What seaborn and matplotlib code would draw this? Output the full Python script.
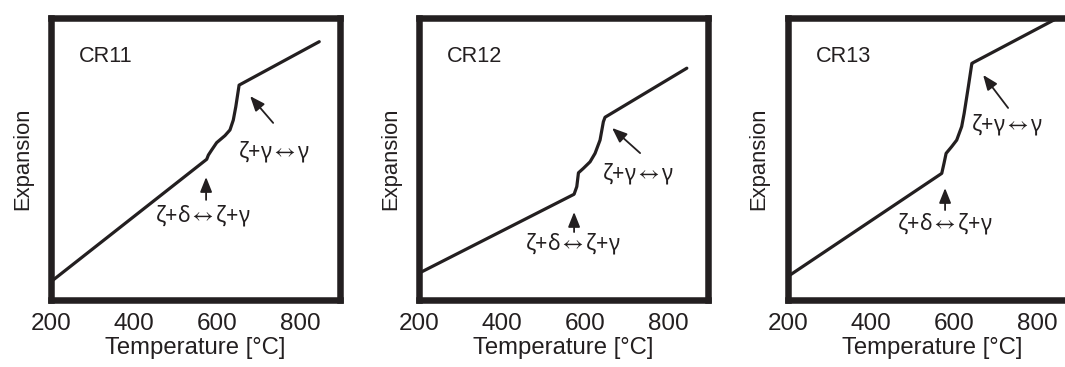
import matplotlib
matplotlib.use("Agg")
import matplotlib.pyplot as plt
from matplotlib.ticker import MultipleLocator
import pandas as pd
import seaborn as sns

# Dilatometry curves: temperature (degC) vs relative expansion (arbitrary units, 0-100)
cr11_temp = [200, 575, 579, 587, 599, 611, 619, 631, 639, 645, 650, 653, 846]
cr11_exp = [6.5, 49.9, 51.4, 53.2, 55.8, 57.3, 58.3, 60.3, 63.8, 68.5, 73.3, 76.2, 91.6]

cr12_temp = [200, 573.5, 580, 584, 596, 612, 624, 636, 644, 648, 845]
cr12_exp = [9.5, 37.5, 40.2, 45.1, 46.7, 49.0, 52.0, 56.7, 63.2, 64.8, 82.2]

cr13_temp = [200, 571, 576.5, 581.5, 595, 607, 619, 625, 635, 643.5, 647, 845]
cr13_exp = [8.3, 44.9, 48.5, 52.0, 54.4, 56.7, 61.5, 66.2, 75.6, 83.9, 84.2, 99.6]

sample_names = ["CR11", "CR12", "CR13"]
x_ticks = [200, 400, 600, 800]
x_label = "Temperature [\u00b0C]"
y_label = "Expansion"
label_upper = "\u03b6+\u03b3${\\leftrightarrow}$\u03b3"
label_lower = "\u03b6+\u03b4${\\leftrightarrow}$\u03b6+\u03b3"

# Transition markers per sample: (text position, arrow tail, arrow tip)
upper_notes = [
    ((736, 52.5), (735, 62.8), (679.5, 72.3)),
    ((726.5, 44.7), (732.5, 52.1), (665, 61.0)),
    ((728.4, 62.1), (730.8, 68.1), (670.6, 79.8)),
]
lower_notes = [
    ((566.3, 29.8), (573.5, 35.5), (573.5, 43.6)),
    ((571, 20.2), (573.5, 24.1), (573.5, 31.2)),
    ((579, 27.0), (579, 31.9), (579, 39.7)),
]

sns.set_style("white")
plt.rcParams["font.family"] = ["Liberation Sans", "DejaVu Sans"]
plt.rcParams["mathtext.fontset"] = "stix"
note_family = ["Noto Sans", "DejaVu Sans"]

ink = "#231f20"
fig = plt.figure(figsize=(10.65, 3.67), dpi=100)

lefts = [51 / 1065, 419 / 1065, 787.7 / 1065]
width = 289 / 1065
bottom = 67 / 367
height = 282 / 367

curves = [(cr11_temp, cr11_exp), (cr12_temp, cr12_exp), (cr13_temp, cr13_exp)]

for i, (temps, exps) in enumerate(curves):
    ax = fig.add_axes([lefts[i], bottom, width, height])
    df = pd.DataFrame({"temperature": temps, "expansion": exps})
    sns.lineplot(data=df, x="temperature", y="expansion", ax=ax, color=ink,
                 lw=2.3, estimator=None, sort=False)
    ax.set_xlim(200, 896)
    ax.set_ylim(0, 100)
    ax.set_xticks(x_ticks)
    ax.set_xticklabels([str(t) for t in x_ticks])
    ax.xaxis.set_minor_locator(MultipleLocator(50))
    ax.set_yticks([])
    ax.tick_params(axis="x", which="both", direction="in", colors=ink,
                   labelcolor=ink, labelsize=17.5, pad=9.5, top=False)
    ax.tick_params(axis="x", which="major", length=7.2, width=1.1)
    ax.tick_params(axis="x", which="minor", length=4.8, width=1.1)
    for sp in ax.spines.values():
        sp.set_visible(True)
        sp.set_linewidth(4.7)
        sp.set_color(ink)
    ax.set_xlabel(x_label, fontsize=17.2, color=ink, labelpad=1)
    ax.set_ylabel(y_label, fontsize=15.8, color=ink, labelpad=13)

    ax.text(268, 86.2, sample_names[i], fontsize=15.6, color=ink,
            ha="left", va="center")

    for (txy, tail, tip), label in ((upper_notes[i], label_upper),
                                     (lower_notes[i], label_lower)):
        ax.text(txy[0], txy[1], label, fontsize=15.5, color=ink,
                family=note_family, ha="center", va="center")
        ax.annotate("", xy=tip, xytext=tail,
                    arrowprops=dict(arrowstyle="-|>,head_length=0.9,head_width=0.36",
                                    mutation_scale=10, lw=1.3, color=ink,
                                    shrinkA=0, shrinkB=0))

fig.savefig("out.png", dpi=100)
